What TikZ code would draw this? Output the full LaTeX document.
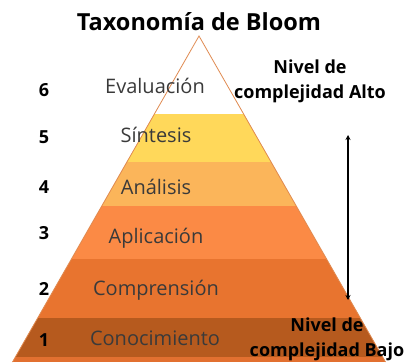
\documentclass[tikz,border=0pt]{standalone}
\usepackage{fontspec}
\setmainfont{Open Sans}
\usetikzlibrary{arrows.meta}
\definecolor{cEdge}{HTML}{E08A50}
\definecolor{cFive}{HTML}{FFD85A}
\definecolor{cFour}{HTML}{FBB55A}
\definecolor{cThree}{HTML}{FB8A45}
\definecolor{cTwo}{HTML}{E8742F}
\definecolor{cOne}{HTML}{B65A1E}
\definecolor{cZero}{HTML}{E27030}
\definecolor{cLabel}{HTML}{3A3A3A}
\begin{document}
\begin{tikzpicture}[x=1pt,y=-1pt,
  level/.style={font=\fontsize{20}{24}\selectfont, text=cLabel, anchor=center, inner sep=0pt},
  num/.style={font=\bfseries\fontsize{18}{20}\selectfont, anchor=center, inner sep=0pt},
  side/.style={font=\bfseries\fontsize{18}{25}\selectfont, align=center, anchor=center, inner sep=0pt}]
\useasboundingbox (0,0) rectangle (406,362);
\fill[white] (0,0) rectangle (406,362);
\coordinate (apex) at (199,36);
\coordinate (bl) at (12.5,362);
\coordinate (br) at (385.5,362);
\begin{scope}
  \clip (apex) -- (bl) -- (br) -- cycle;
  \fill[cFive]  (0,114) rectangle (406,162);
  \fill[cFour]  (0,162) rectangle (406,206);
  \fill[cThree] (0,206) rectangle (406,259);
  \fill[cTwo]   (0,259) rectangle (406,318);
  \fill[cOne]   (0,318) rectangle (406,357);
  \fill[cZero]  (0,357) rectangle (406,362);
\end{scope}
\draw[cEdge, line width=0.8pt] (bl) -- (apex) -- (br);
% title
\node[font=\bfseries\fontsize{23.5}{28}\selectfont, inner sep=0pt] (title) at (199,22) {Taxonomía de Bloom};
% levels
\node[level] (l6) at (155,86) {Evaluación};
\node[level] (l5) at (156,135) {Síntesis};
\node[level] (l4) at (156,187) {Análisis};
\node[level] (l3) at (156,238) {Aplicación};
\node[level] (l2) at (156,290) {Comprensión};
\node[level] (l1) at (155,338) {Conocimiento};
% numbers
\node[num] (n6) at (44,90) {6};
\node[num] (n5) at (44,137) {5};
\node[num] (n4) at (44,187) {4};
\node[num] (n3) at (44,233) {3};
\node[num] (n2) at (44,289) {2};
\node[num] (n1) at (44,340) {1};
% side labels
\node[side] (alto) at (310,81) {Nivel de\\complejidad Alto};
\node[side] (bajo) at (327,339) {Nivel de\\complejidad Bajo};
% arrow
\coordinate (atop) at (348,135);
\coordinate (abot) at (348,300);
\draw[line width=1.4pt, {Stealth[length=5pt,width=5pt]}-{Stealth[length=5pt,width=5pt]}] (atop) -- (abot);
\end{tikzpicture}
\end{document}
